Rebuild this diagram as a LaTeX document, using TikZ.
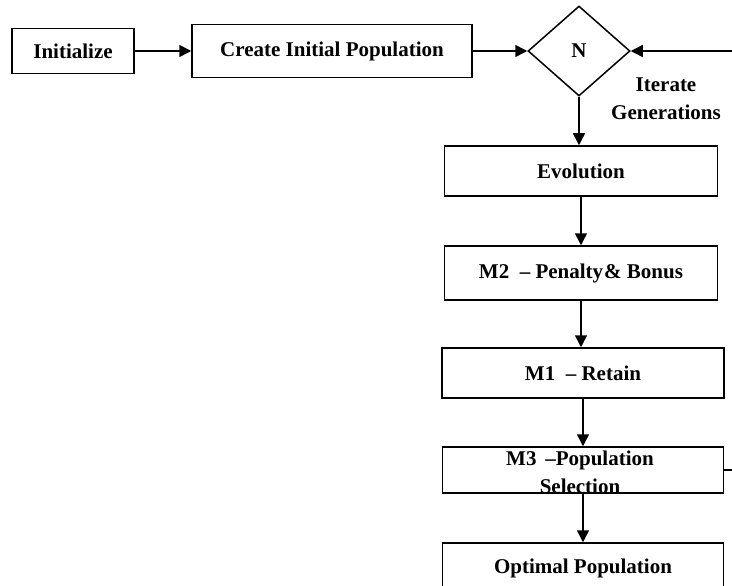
\documentclass[tikz,border=0pt]{standalone}
\usepackage{fontspec}
\setmainfont{Liberation Serif}
\usetikzlibrary{shapes.geometric,arrows.meta}
\begin{document}
\begin{tikzpicture}[x=1pt,y=-1pt,
  box/.style={draw,line width=1.5pt,inner sep=0pt,font=\fontsize{21}{28}\selectfont\bfseries},
  arr/.style={line width=1.5pt,-{Triangle[length=12pt,width=12pt]}},
  plain/.style={line width=1.5pt},
  lbl/.style={font=\fontsize{21}{28}\selectfont\bfseries,inner sep=0pt,align=center}]
\useasboundingbox (0,0) rectangle (732,586);
\clip (0,0) rectangle (732,586);
% top row
\node[box,minimum width=122pt,minimum height=45pt] (init) at (73,51) {Initialize};
\node[box,minimum width=280pt,minimum height=53pt] (create) at (332,51) {Create Initial Population};
\node[box,diamond,minimum width=102pt,minimum height=90pt,aspect=1.13] (n) at (579,51) {N};
\coordinate (rin) at (732,51);
\node[lbl] (it1) at (666,85) {Iterate};
\node[lbl] (it2) at (666,112) {Generations};
% column
\node[box,minimum width=273pt,minimum height=50pt] (evo) at (581,171) {Evolution};
\node[box,minimum width=273pt,minimum height=54pt] (m2) at (581,273) {M2 \ -- Penalty\kern1pt\& Bonus};
\node[box,minimum width=282pt,minimum height=50pt] (m1) at (583,373) {M1 \ -- Retain};
\node[box,minimum width=281pt,minimum height=46pt] (m3) at (583,470) {};
\node[lbl] (m3t) at (580,472) {M3 \,--Population\\Selection};
\node[box,minimum width=281pt,minimum height=50pt] (opt) at (583,568) {Optimal Population};
\coordinate (rout) at (732,470);
% connectors
\draw[arr] (init) -- (create);
\draw[arr] (create) -- (n);
\draw[arr] (rin) -- (n.east);
\draw[arr] (n.south) -- (n.south |- evo.north);
\draw[arr] (evo.south) -- (evo.south |- m2.north);
\draw[arr] (m2.south) -- (m2.south |- m1.north);
\draw[arr] (m1.south) -- (m1.south |- m3.north);
\draw[arr] (m3.south) -- (m3.south |- opt.north);
\draw[plain] (m3.east) -- (rout);
\end{tikzpicture}
\end{document}
